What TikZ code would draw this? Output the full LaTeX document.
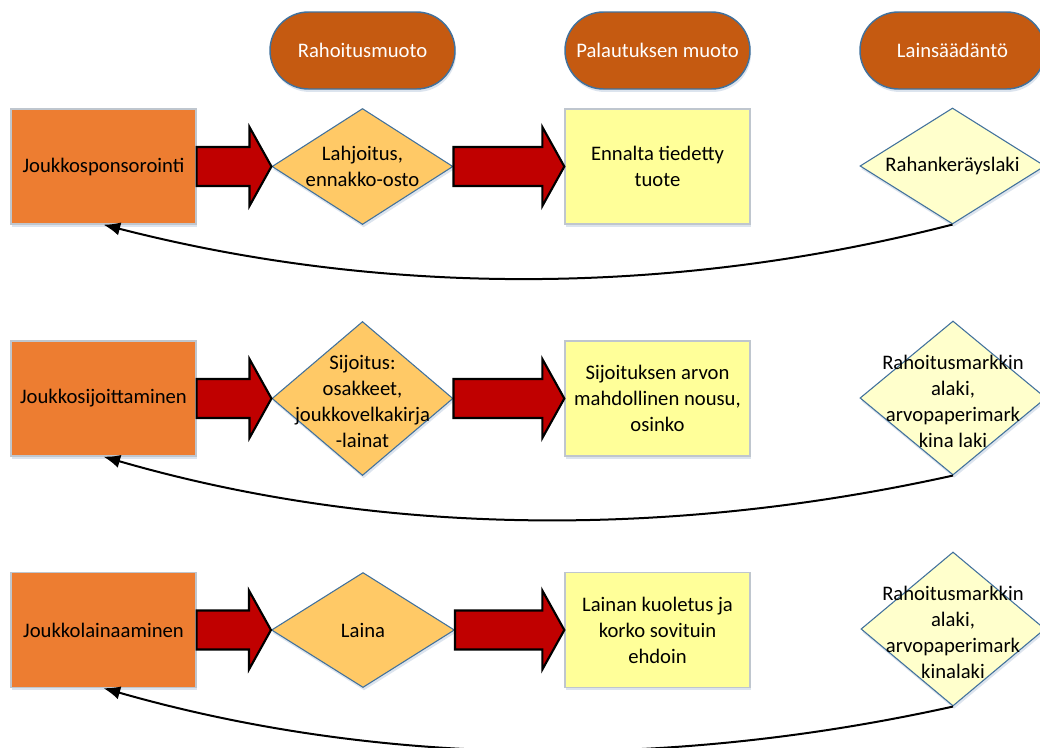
\documentclass[tikz,border=0pt]{standalone}
\usepackage{fontspec}
\setmainfont{Carlito}
\usetikzlibrary{shapes.geometric,arrows.meta,calc,shadows}
\definecolor{orangebox}{HTML}{ED7D31}
\definecolor{headfill}{HTML}{C55A11}
\definecolor{blueline}{HTML}{41719C}
\definecolor{diaA}{HTML}{FFC966}
\definecolor{yelbox}{HTML}{FFFF99}
\definecolor{diaB}{HTML}{FFFFCC}
\definecolor{arrred}{HTML}{C00000}
\definecolor{graybord}{HTML}{BFC6CE}
\definecolor{shadowcol}{HTML}{9DB3CF}
\tikzset{
  softshadow/.style={drop shadow={shadow xshift=0.8pt,shadow yshift=-2.2pt,fill=shadowcol,opacity=0.35}},
  txt/.style={font=\fontsize{15.5}{19.5}\selectfont,align=center,inner sep=0pt},
  header/.style={softshadow,rectangle,rounded corners=28.875pt,fill=headfill,draw=blueline,line width=1.1pt,
    minimum width=138.75pt,minimum height=57.75pt,text=white,font=\fontsize{15.5}{19.5}\selectfont},
  srcbox/.style={softshadow,rectangle,fill=orangebox,draw=graybord,line width=1pt,
    minimum width=138.75pt,minimum height=86.25pt,txt},
  retbox/.style={softshadow,rectangle,fill=yelbox,draw=graybord,line width=1pt,
    minimum width=138.75pt,minimum height=86.25pt,txt},
  diaform/.style={softshadow,diamond,fill=diaA,draw=blueline,line width=0.8pt,inner sep=0pt},
  dialaw/.style={softshadow,diamond,fill=diaB,draw=blueline,line width=0.8pt,inner sep=0pt},
  backcurve/.style={draw=black,line width=1.5pt,-{Latex[length=12.5pt,width=10pt]}},
  blockarr/.style={fill=arrred,draw=black,line width=1.6pt,line join=miter},
}
\newcommand{\blockarrow}[2]{%
  \path[blockarr] ($(#1)+(0,-19.5)$) -- ($(#2)+(-22,-19.5)$) -- ($(#2)+(-22,-39.5)$) -- (#2)
    -- ($(#2)+(-22,39.5)$) -- ($(#2)+(-22,19.5)$) -- ($(#1)+(0,19.5)$) -- cycle;}
\begin{document}
\begin{tikzpicture}[x=0.75pt,y=-0.75pt]
\useasboundingbox (0,0) rectangle (1040,747);
\clip (0,0) rectangle (1040,747);
\fill[white] (0,0) rectangle (1040,747);

% headers
\node[header] (h1) at (362.5,50.5) {Rahoitusmuoto};
\node[header] (h2) at (657.5,50.5) {Palautuksen muoto};
\node[header] (h3) at (952.5,50.5) {Lainsäädäntö};

% row 1
\node[srcbox] (r1) at (103.5,166.5) {Joukkosponsorointi};
\node[diaform,minimum width=135.75pt,minimum height=87pt] (d1) at (362.5,166.5) {};
\node[txt] (d1t) at (d1.center) {Lahjoitus,\\ennakko-osto};
\node[retbox] (y1) at (657.5,166.5) {Ennalta tiedetty\\tuote};
\node[dialaw,minimum width=138.75pt,minimum height=87pt] (l1) at (952.5,166) {};
\node[txt] (l1t) at (l1.center) {Rahankeräyslaki};

% row 2
\node[srcbox] (r2) at (103.5,398.5) {Joukkosijoittaminen};
\node[diaform,minimum width=135.75pt,minimum height=115.5pt] (d2) at (362.5,398.5) {};
\node[txt] (d2t) at (362.5,401) {Sijoitus:\\osakkeet,\\joukkovelkakirja\\-lainat};
\node[retbox] (y2) at (657.5,398.5) {Sijoituksen arvon\\mahdollinen nousu,\\osinko};
\node[dialaw,minimum width=139.5pt,minimum height=115.5pt] (l2) at (953,398) {};
\node[txt] (l2t) at (953,401) {Rahoitusmarkkin\\alaki,\\arvopaperimark\\kina laki};

% row 3
\node[srcbox] (r3) at (103.5,630) {Joukkolainaaminen};
\node[diaform,minimum width=137.25pt,minimum height=86.25pt] (d3) at (363,630) {};
\node[txt] (d3t) at (d3.center) {Laina};
\node[retbox] (y3) at (657.5,630) {Lainan kuoletus ja\\korko sovituin\\ehdoin};
\node[dialaw,minimum width=138pt,minimum height=115.5pt] (l3) at (953,629) {};
\node[txt] (l3t) at (953,632) {Rahoitusmarkkin\\alaki,\\arvopaperimark\\kinalaki};

% block arrows
\blockarrow{r1.east}{d1.west}
\blockarrow{d1.east}{y1.west}
\blockarrow{r2.east}{d2.west}
\blockarrow{d2.east}{y2.west}
\blockarrow{r3.east}{d3.west}
\blockarrow{d3.east}{y3.west}

% return curves
\draw[backcurve] (l1.south) .. controls ($(l1.south)+(-280,72)$) and ($(r1.south)+(280,72)$) .. (r1.south);
\draw[backcurve] (l2.south) .. controls ($(l2.south)+(-280,62)$) and ($(r2.south)+(280,81)$) .. (r2.south);
\draw[backcurve] (l3.south) .. controls ($(l3.south)+(-280,62)$) and ($(r3.south)+(280,80)$) .. (r3.south);
\end{tikzpicture}
\end{document}
